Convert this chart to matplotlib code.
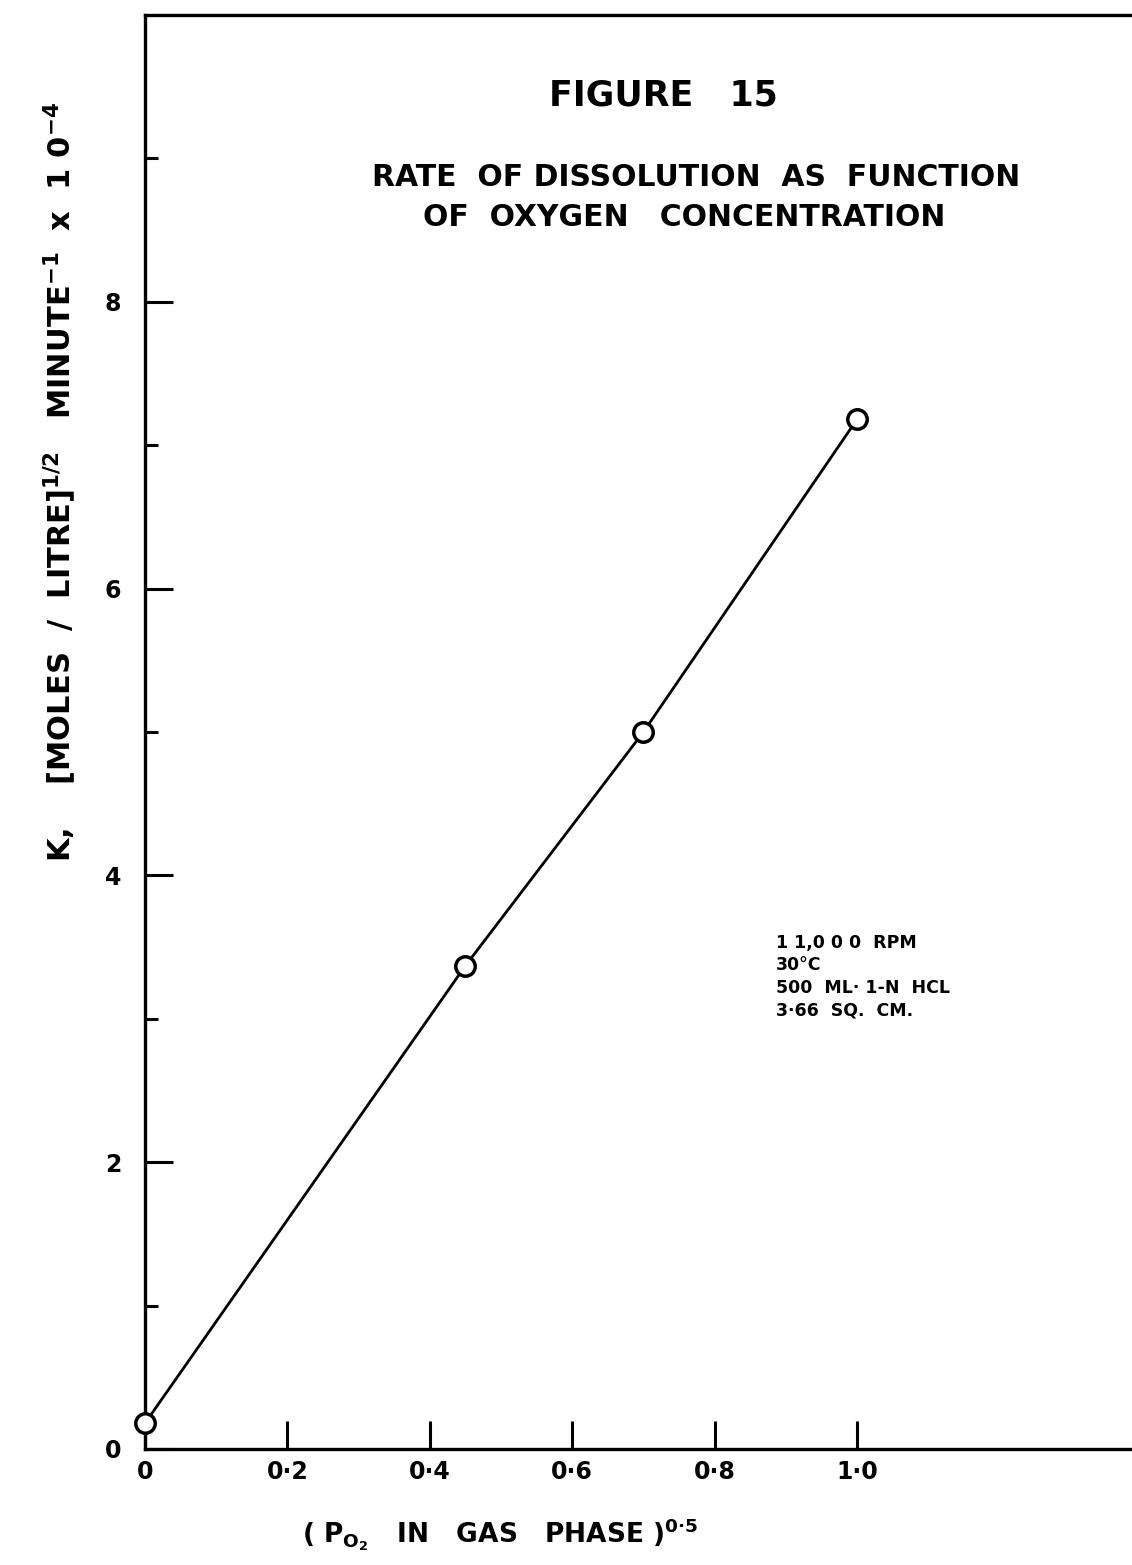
import matplotlib
matplotlib.use("Agg")
import matplotlib.pyplot as plt
from matplotlib.ticker import FixedLocator

plt.rcParams["font.family"] = ["DejaVu Sans"]
plt.rcParams["font.weight"] = "bold"
plt.rcParams["mathtext.fontset"] = "dejavusans"
plt.rcParams["mathtext.default"] = "bf"

# Measured dissolution rates
sqrt_po2 = [0.0, 0.45, 0.70, 1.00]
rate_k = [0.18, 3.37, 5.00, 7.18]

x_ticks = [0.0, 0.2, 0.4, 0.6, 0.8, 1.0]
x_tick_labels = ["0", "0·2", "0·4", "0·6", "0·8", "1·0"]
y_major = [0, 2, 4, 6, 8]
y_major_labels = ["0", "2", "4", "6", "8"]
y_minor = [1, 3, 5, 7, 9]

conditions = ["1 1,0 0 0  RPM", "30°C", "500  ML· 1-N  HCL", "3·66  SQ.  CM."]

W, H = 1132, 1565
fig = plt.figure(figsize=(W / 100, H / 100), dpi=100)
fig.patch.set_facecolor("white")


def fx(px):
    return px / W


def fy(py):
    return 1 - py / H


left, right, top, bottom = 145, W, 15, 1449
ax = fig.add_axes([fx(left), fy(bottom), fx(right - left), (bottom - top) / H])
ax.set_xlim(0, (right - left) / 712)
ax.set_ylim(0, 10)

for side in ("left", "top", "bottom"):
    ax.spines[side].set_linewidth(2.4)
ax.spines["right"].set_visible(False)

ax.plot(sqrt_po2, rate_k, "-", color="black", lw=2.0, zorder=2)
ax.plot(sqrt_po2, rate_k, "o", mfc="white", mec="black", ms=14, mew=2.5,
        zorder=3, clip_on=False)

ax.set_xticks(x_ticks)
ax.set_xticklabels(x_tick_labels)
ax.set_yticks(y_major)
ax.set_yticklabels(y_major_labels)
ax.yaxis.set_minor_locator(FixedLocator(y_minor))
ax.tick_params(axis="both", which="major", direction="in", length=20, width=2.2,
               labelsize=17)
ax.tick_params(axis="y", which="major", pad=17)
ax.tick_params(axis="x", which="major", pad=8)
ax.tick_params(axis="y", which="minor", direction="in", length=9.5, width=2.2)
ax.tick_params(top=False, right=False, which="both")

# Titles
fig.text(fx(663), fy(95), "FIGURE   15", ha="center", va="center",
         fontsize=25, fontweight="bold")
fig.text(fx(696), fy(177), "RATE  OF DISSOLUTION  AS  FUNCTION", ha="center",
         va="center", fontsize=21.5, fontweight="bold")
fig.text(fx(684), fy(218), "OF  OXYGEN   CONCENTRATION", ha="center",
         va="center", fontsize=21.5, fontweight="bold")

# Experimental conditions
for i, line in enumerate(conditions):
    fig.text(fx(776), fy(943 + i * 22.5), line, ha="left", va="center",
             fontsize=12.5, fontweight="bold")

# Axis titles
fig.text(fx(302), fy(1535),
         r"( P$_{\mathbf{O}_{\mathbf{2}}}$   IN   GAS   PHASE )$^{\mathbf{0·5}}$",
         ha="left", va="center", fontsize=19, fontweight="bold")
fig.text(fx(60), fy(482),
         r"K,    $\left[\mathbf{MOLES\ \ /\ \ LITRE}\right]^{\mathbf{1/2}}$   MINUTE$^{\mathbf{-1}}$  x  1 0$^{\mathbf{-4}}$",
         rotation=90, ha="center", va="center", fontsize=22, fontweight="bold")

fig.savefig("out.png", dpi=100, facecolor="white")
